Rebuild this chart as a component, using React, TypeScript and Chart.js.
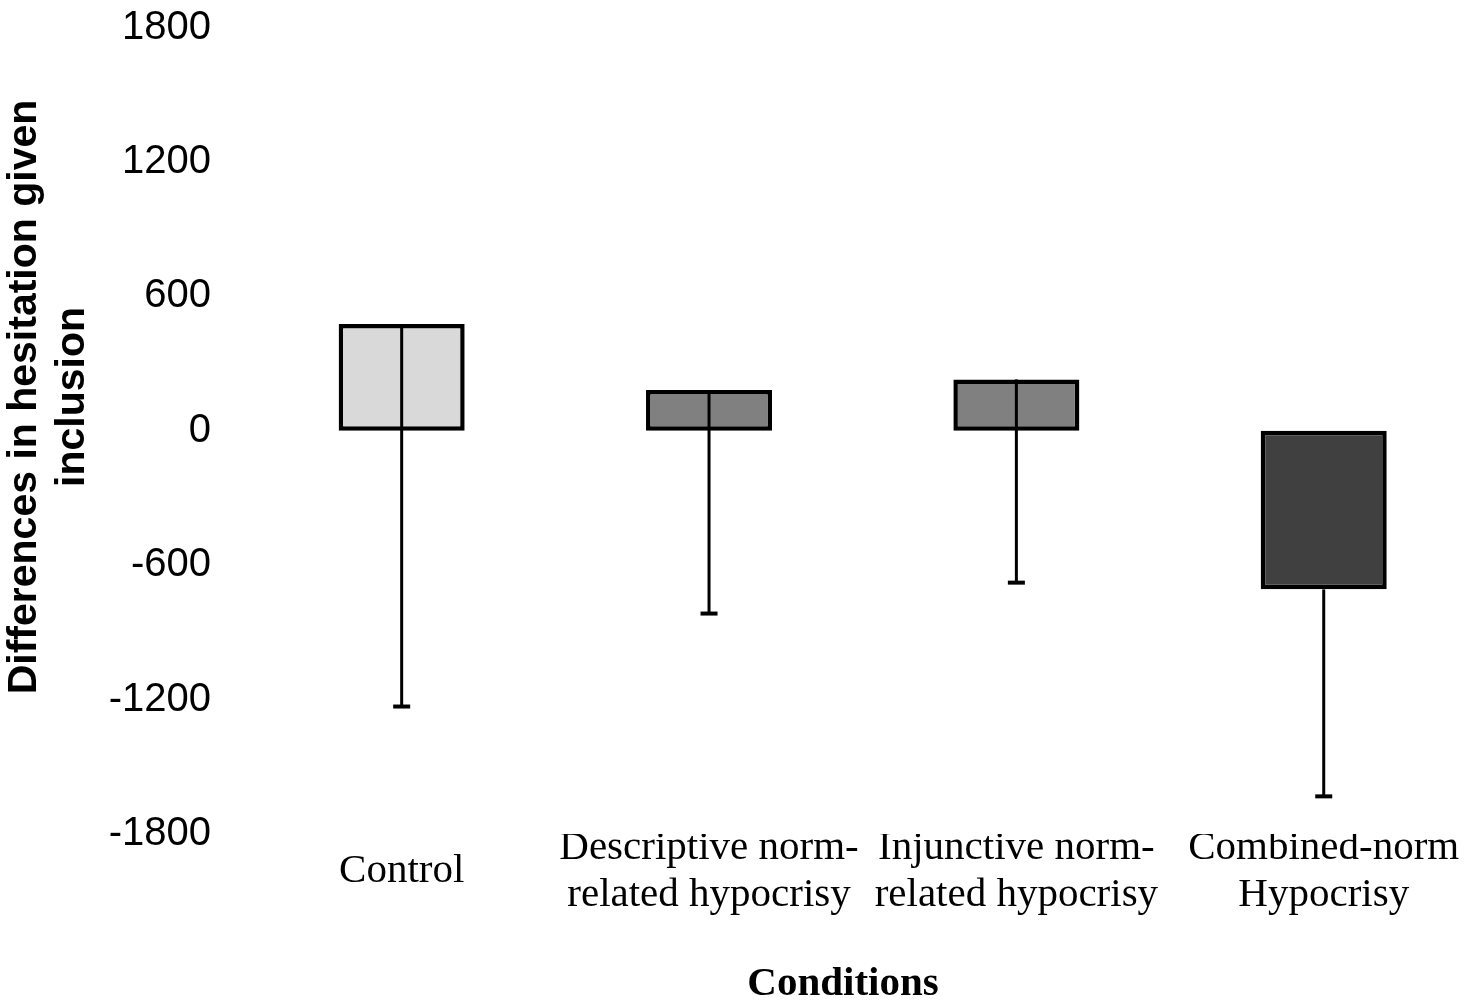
import React, { useEffect, useRef } from "react";
import { Chart, registerables } from "chart.js";

Chart.register(...registerables);

const categories: (string | string[])[] = [
  "Control",
  ["Descriptive norm-", "related hypocrisy"],
  ["Injunctive norm-", "related hypocrisy"],
  ["Combined-norm", "Hypocrisy"],
];
const means = [477, 182, 229, -708];
const errorsMinus = [1708, 998, 907, 924];
const barColors = ["#d9d9d9", "#808080", "#808080", "#404040"];
const yTicks = [-1800, -1200, -600, 0, 600, 1200, 1800];
const yTitleLines = ["Differences in hesitation given", "inclusion"];
const xTitle = "Conditions";

const sansFamily = "'Liberation Sans', Arial, sans-serif";
const serifFamily = "'Liberation Serif', 'Times New Roman', serif";

const overlayPlugin = {
  id: "overlay",
  afterDatasetsDraw(chart: any) {
    const ctx = chart.ctx;
    const meta = chart.getDatasetMeta(0);
    const y = chart.scales.y;
    ctx.save();
    ctx.strokeStyle = "#000";
    meta.data.forEach((bar: any, i: number) => {
      const x = bar.x;
      const top = y.getPixelForValue(means[i]);
      const bot = y.getPixelForValue(means[i] - errorsMinus[i]);
      ctx.lineWidth = 3;
      ctx.beginPath();
      ctx.moveTo(x, top);
      ctx.lineTo(x, bot);
      ctx.stroke();
      ctx.lineWidth = 4;
      ctx.beginPath();
      ctx.moveTo(x - 8.5, bot);
      ctx.lineTo(x + 8.5, bot);
      ctx.stroke();
    });
    ctx.restore();
  },
  afterDraw(chart: any) {
    const ctx = chart.ctx;
    ctx.save();
    ctx.fillStyle = "#000";
    ctx.font = `bold 41px ${sansFamily}`;
    ctx.textAlign = "center";
    ctx.textBaseline = "alphabetic";
    ctx.translate(0, 397);
    ctx.rotate(-Math.PI / 2);
    ctx.fillText(yTitleLines[0], 0, 36);
    ctx.fillText(yTitleLines[1], 0, 84);
    ctx.restore();
    ctx.save();
    ctx.fillStyle = "#000";
    ctx.font = `bold 41px ${serifFamily}`;
    ctx.textAlign = "center";
    ctx.textBaseline = "alphabetic";
    ctx.fillText(xTitle, 843, 995);
    ctx.restore();
  },
};

export default function App() {
  const canvasRef = useRef<HTMLCanvasElement | null>(null);

  useEffect(() => {
    if (!canvasRef.current) return;
    const chart = new Chart(canvasRef.current, {
      type: "bar",
      data: {
        labels: categories,
        datasets: [
          {
            data: means,
            backgroundColor: barColors,
            borderColor: "#000",
            borderWidth: 4.5,
            borderSkipped: false,
            barPercentage: 0.41,
            categoryPercentage: 1,
          },
        ],
      },
      options: {
        animation: false,
        responsive: false,
        devicePixelRatio: 1,
        layout: { padding: { top: 27.5, right: 1.6, left: 0, bottom: 0 } },
        plugins: {
          legend: { display: false },
          tooltip: { enabled: false },
          title: { display: false },
        },
        scales: {
          x: {
            grid: { display: false, drawTicks: false },
            border: { display: false },
            ticks: {
              color: "#000",
              font: { family: serifFamily, size: 41, lineHeight: 1.146 },
              padding: 14,
              maxRotation: 0,
              minRotation: 0,
              autoSkip: false,
              crossAlign: "center",
            } as any,
            afterFit: (scale: any) => {
              scale.height = 174;
              scale.paddingLeft = 0;
              scale.paddingRight = 0;
            },
          },
          y: {
            min: -1800,
            max: 1800,
            grid: { display: false, drawTicks: false },
            border: { display: false },
            afterBuildTicks: (scale: any) => {
              scale.ticks = yTicks.map((v) => ({ value: v }));
            },
            ticks: {
              color: "#000",
              font: { family: sansFamily, size: 40 },
              padding: 37,
              callback: (v: any) => String(v),
            },
            afterFit: (scale: any) => {
              scale.width = 248;
              scale.paddingTop = 0;
              scale.paddingBottom = 0;
            },
          },
        },
      },
      plugins: [overlayPlugin],
    });
    return () => chart.destroy();
  }, []);

  return (
    <div style={{ position: "absolute", left: 0, top: 0, width: 1479, height: 1008, background: "#fff" }}>
      <canvas ref={canvasRef} width={1479} height={1008} style={{ display: "block" }} />
    </div>
  );
}
